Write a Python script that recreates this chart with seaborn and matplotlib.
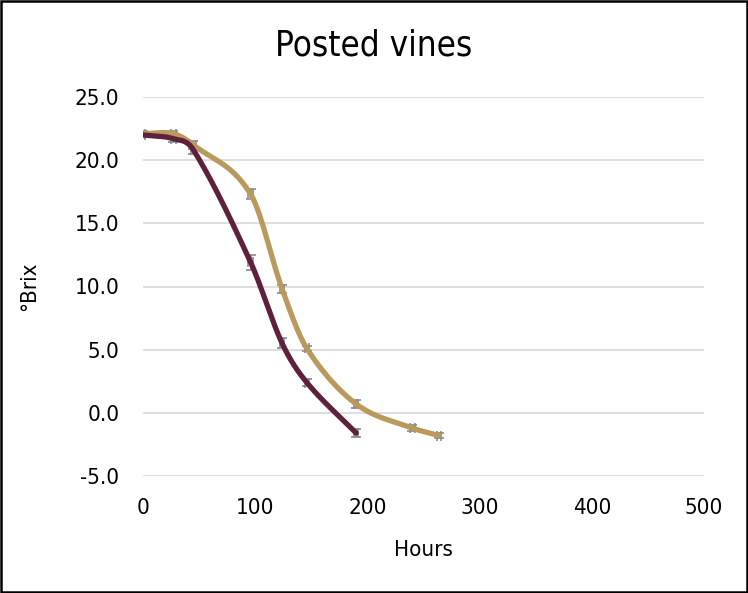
import numpy as np
import pandas as pd
import matplotlib
matplotlib.use("Agg")
import matplotlib.pyplot as plt
import seaborn as sns

sns.set_style("white")
plt.rcParams["font.family"] = ["DejaVu Sans"]
plt.rcParams["font.stretch"] = "condensed"
plt.rcParams["text.color"] = "black"
plt.rcParams["axes.labelcolor"] = "black"

# Sugar readings (°Brix) over time for the two treatments
hours_a = [0, 27, 45, 96, 124, 146, 190]
brix_a = [22.0, 21.7, 20.8, 11.9, 5.5, 2.4, -1.6]
err_a = [0.2, 0.3, 0.3, 0.6, 0.4, 0.3, 0.3]

hours_b = [0, 27, 45, 96, 124, 146, 190, 240, 264]
brix_b = [22.1, 22.1, 21.2, 17.3, 9.8, 5.1, 0.7, -1.2, -1.8]
err_b = [0.2, 0.2, 0.3, 0.4, 0.3, 0.2, 0.3, 0.2, 0.2]

hour_err = 2.0

x_ticks = [0, 100, 200, 300, 400, 500]
y_ticks = [-5, 0, 5, 10, 15, 20, 25]

color_a = "#5f1f3d"
color_b = "#b9995c"
err_color = "#878b90"


def smooth(xs, ys, n=40):
    """Cubic Hermite curve through the points with central-difference slopes."""
    x = np.asarray(xs, float)
    y = np.asarray(ys, float)
    m = np.empty_like(y)
    m[1:-1] = (y[2:] - y[:-2]) / (x[2:] - x[:-2])
    m[0] = (y[1] - y[0]) / (x[1] - x[0])
    m[-1] = (y[-1] - y[-2]) / (x[-1] - x[-2])
    out_x, out_y = [], []
    for i in range(len(x) - 1):
        h = x[i + 1] - x[i]
        t = np.linspace(0, 1, n)
        if i > 0:
            t = t[1:]
        h00 = 2 * t ** 3 - 3 * t ** 2 + 1
        h10 = t ** 3 - 2 * t ** 2 + t
        h01 = -2 * t ** 3 + 3 * t ** 2
        h11 = t ** 3 - t ** 2
        out_x.append(x[i] + t * h)
        out_y.append(h00 * y[i] + h10 * h * m[i] + h01 * y[i + 1] + h11 * h * m[i + 1])
    return np.concatenate(out_x), np.concatenate(out_y)


fig = plt.figure(figsize=(7.48, 5.93), dpi=100)
ax = fig.add_axes([143 / 748, 1 - 476 / 593, (704 - 143) / 748, (476 - 97) / 593])

frames = []
for name, hx, by in [("a", hours_a, brix_a), ("b", hours_b, brix_b)]:
    sx, sy = smooth(hx, by)
    frames.append(pd.DataFrame({"Hours": sx, "Brix": sy, "series": name}))
df = pd.concat(frames, ignore_index=True)

for hx, by, ey in [(hours_a, brix_a, err_a), (hours_b, brix_b, err_b)]:
    ax.errorbar(hx, by, yerr=ey, xerr=hour_err, fmt="none", ecolor=err_color,
                elinewidth=1.2, capsize=3.5, capthick=1.2, zorder=2)

sns.lineplot(data=df, x="Hours", y="Brix", hue="series", sort=False,
             palette={"a": color_a, "b": color_b}, hue_order=["b", "a"],
             linewidth=3.8, legend=False, ax=ax, zorder=3,
             solid_capstyle="round", estimator=None)

ax.set_xlim(0, 500)
ax.set_ylim(-5, 25)
ax.set_xticks(x_ticks)
ax.set_yticks(y_ticks)
ax.set_yticklabels([f"{v:.1f}" for v in y_ticks])
ax.yaxis.grid(True, color="#d9d9d9", linewidth=1.2)
ax.xaxis.grid(False)
for s in ax.spines.values():
    s.set_visible(False)
ax.tick_params(axis="both", length=0, labelsize=16, colors="black")
ax.tick_params(axis="y", pad=17)
ax.tick_params(axis="x", pad=16)
ax.set_xlabel("Hours", fontsize=16)
ax.set_ylabel("°Brix", fontsize=16)
ax.xaxis.set_label_coords(0.5, (476 - 540) / 379)
ax.yaxis.set_label_coords((39 - 143) / 561, 0.5)
ax.set_axisbelow(True)

fig.text(0.5, 1 - 46 / 593, "Posted vines", ha="center", va="center", fontsize=25)

fig.patches.append(plt.Rectangle((0.001, 0.001), 0.997, 0.997, transform=fig.transFigure,
                                 fill=False, edgecolor="black", linewidth=1.8))

fig.savefig("out.png", dpi=100, facecolor="white")
